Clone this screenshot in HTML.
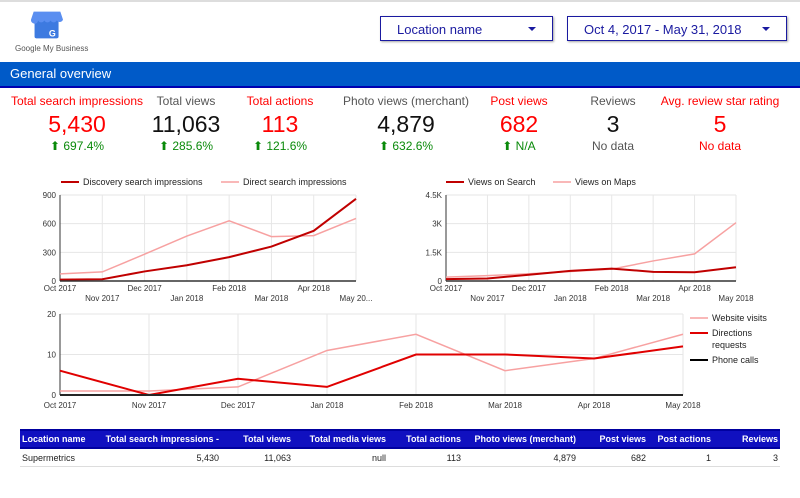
<!DOCTYPE html>
<html><head><meta charset="utf-8">
<style>
body{margin:0;width:800px;height:498px;background:#fff;font-family:"Liberation Sans",Arial,sans-serif;position:relative;overflow:hidden}
.abs{position:absolute}
.dd{position:absolute;top:16px;height:25px;border:1px solid #1a1aa0;box-shadow:1px 1px 2px rgba(0,0,0,.35);color:#1a1aa0;font-size:13px;line-height:25px;box-sizing:border-box}
.dd span.t{position:absolute;left:16px}
.dd span.a{position:absolute;right:16px;top:10px;width:0;height:0;border-left:4px solid transparent;border-right:4px solid transparent;border-top:4px solid #1a1aa0}
.kpi{position:absolute;top:94px;width:150px;margin-left:-75px;text-align:center}
.kpi .l{font-size:12px;color:#555;white-space:nowrap}
.kpi .v{font-size:23px;color:#111;line-height:28px;margin-top:2px}
.kpi .c{font-size:12px;color:#0a8a0a;margin-top:1px}
.red .l,.red .v{color:#f00}
.kpi .c.g{color:#555}.kpi .c.r{color:#f00}
svg text{font-family:"Liberation Sans",Arial,sans-serif}
table{position:absolute;left:20px;top:429px;width:760px;border-collapse:collapse;font-size:9px;table-layout:fixed}
th{background:#1010c0;color:#fff;font-weight:bold;height:16px;padding:0 2px;text-align:right;border-top:2px solid #0000a0;border-bottom:2px solid #0000a0;white-space:nowrap;overflow:hidden}
td{height:17px;padding:0 2px;text-align:right;border-bottom:1px solid #ddd;color:#222}
</style></head><body>
<div class="abs" style="left:0;top:0;width:800px;height:2px;background:#ddd"></div>
<svg class="abs" style="left:31px;top:9px" width="32" height="32" viewBox="0 0 36 34">
<rect x="4" y="10" width="27" height="22" rx="2" fill="#3d7ae0"/>
<path d="M3 2h30l3 9a4 4 0 0 1-7 1 4 4 0 0 1-7 0 4 4 0 0 1-7 0 4 4 0 0 1-7 0 4 4 0 0 1-8-1z" fill="#5a8ef0"/>
<text x="24" y="30" font-size="10" fill="#fff" font-weight="bold" text-anchor="middle">G</text>
</svg>
<div class="abs" style="left:15px;top:44px;font-size:8px;color:#555">Google My Business</div>
<div class="dd" style="left:380px;width:173px"><span class="t">Location name</span><span class="a"></span></div>
<div class="dd" style="left:567px;width:220px"><span class="t">Oct 4, 2017 - May 31, 2018</span><span class="a"></span></div>
<div class="abs" style="left:0;top:62px;width:800px;height:24px;background:#005ac8;border-bottom:2px solid #0000b0;color:#fff;font-size:13px;line-height:24px;padding-left:10px;box-sizing:content-box">General overview</div>

<div class="kpi red" style="left:77px"><div class="l">Total search impressions</div><div class="v">5,430</div><div class="c">⬆ 697.4%</div></div>
<div class="kpi" style="left:186px"><div class="l">Total views</div><div class="v">11,063</div><div class="c">⬆ 285.6%</div></div>
<div class="kpi red" style="left:280px"><div class="l">Total actions</div><div class="v">113</div><div class="c">⬆ 121.6%</div></div>
<div class="kpi" style="left:406px"><div class="l">Photo views (merchant)</div><div class="v">4,879</div><div class="c">⬆ 632.6%</div></div>
<div class="kpi red" style="left:519px"><div class="l">Post views</div><div class="v">682</div><div class="c">⬆ N/A</div></div>
<div class="kpi" style="left:613px"><div class="l">Reviews</div><div class="v">3</div><div class="c g">No data</div></div>
<div class="kpi red" style="left:720px"><div class="l">Avg. review star rating</div><div class="v">5</div><div class="c r">No data</div></div>

<svg class="abs" id="charts" style="left:0;top:0" width="800" height="498"></svg>

<table>
<colgroup><col style="width:83px"><col style="width:118px"><col style="width:72px"><col style="width:95px"><col style="width:75px"><col style="width:115px"><col style="width:70px"><col style="width:65px"><col style="width:67px"></colgroup>
<tr><th style="text-align:left">Location name</th><th>Total search impressions -</th><th>Total views</th><th>Total media views</th><th>Total actions</th><th>Photo views (merchant)</th><th>Post views</th><th>Post actions</th><th>Reviews</th></tr>
<tr><td style="text-align:left">Supermetrics</td><td>5,430</td><td>11,063</td><td>null</td><td>113</td><td>4,879</td><td>682</td><td>1</td><td>3</td></tr>
</table>

<script>
const months=["Oct 2017","Nov 2017","Dec 2017","Jan 2018","Feb 2018","Mar 2018","Apr 2018","May 2018"];
const discovery=[15,18,100,165,250,360,525,860];
const direct=[75,95,280,470,630,465,475,655];
const ticks1=[0,300,600,900];
const viewsSearch=[100,130,330,530,650,480,460,720];
const viewsMaps=[200,280,380,500,620,1050,1420,3050];
const ticks2=[0,1500,3000,4500];
const tickLabels2=["0","1.5K","3K","4.5K"];
const website=[1,1,2,11,15,6,9,15];
const directions=[6,0,4,2,10,10,9,12];
const phone=[0,0,0,0,0,0,0,0];
const ticks3=[0,10,20];

const svg=document.getElementById('charts');
const NS='http://www.w3.org/2000/svg';
function mk(tag,attrs,parent){const e=document.createElementNS(NS,tag);for(const k in attrs)e.setAttribute(k,attrs[k]);(parent||svg).appendChild(e);return e;}
function txt(x,y,s,size,anchor,fill,parent){const t=mk('text',{x:x,y:y,'font-size':size,'text-anchor':anchor,fill:fill||'#333'},parent);t.textContent=s;return t;}

function chart(name,x0,x1,y0,y1,max,ticks,tlabels,series,alt,lastLabel){
  const g=mk('g',{});
  
  
  const xs=i=>x0+i*(x1-x0)/(months.length-1);
  const ys=v=>y1-v/max*(y1-y0);
  ticks.forEach((t,i)=>{
    const gl=mk('line',{x1:x0,x2:x1,y1:ys(t),y2:ys(t),stroke:'#e6e6e6'},g);
    
    
    const tl=txt(x0-4,ys(t)+3,tlabels[i],8,'end','#333',g);
    
    
  });
  months.forEach((m,i)=>{
    if(i>0){const vl=mk('line',{x1:xs(i),x2:xs(i),y1:y0,y2:y1,stroke:'#e6e6e6'},g);
      
      }
    const yy=alt?(i%2?y1+20:y1+10):y1+13;
    const lab=(lastLabel&&i===months.length-1)?lastLabel:m;
    const xl=txt(xs(i),yy,lab,8,'middle','#333',g);
    
    
  });
  mk('line',{x1:x0,x2:x0,y1:y0,y2:y1,stroke:'#333'},g);
  series.forEach(s=>{
    const p=mk('polyline',{points:s.data.map((v,i)=>xs(i)+','+ys(v)).join(' '),fill:'none',stroke:s.color,'stroke-width':s.w},g);
    
    
  });
  mk('line',{x1:x0,x2:x1,y1:y1,y2:y1,stroke:'#333','stroke-width':1.5},g);
}
chart('search-impressions-chart',60,356,195,281,900,ticks1,ticks1.map(String),
 [{name:'direct-search-line',data:direct,color:'#f7a1a1',w:1.5},{name:'discovery-search-line',data:discovery,color:'#c00000',w:2}],true,'May 20...');
chart('views-chart',446,736,195,281,4500,ticks2,tickLabels2,
 [{name:'views-maps-line',data:viewsMaps,color:'#f7a1a1',w:1.5},{name:'views-search-line',data:viewsSearch,color:'#c00000',w:2}],true);
chart('actions-chart',60,683,314,395,20,ticks3,ticks3.map(String),
 [{name:'website-visits-line',data:website,color:'#f7a1a1',w:1.5},{name:'directions-line',data:directions,color:'#e00000',w:2},{name:'phone-calls-line',data:phone,color:'#000',w:2}],false);

function legend(x,y,color,label,w){
  const g=mk('g',{});
  
  
  mk('line',{x1:x,x2:x+18,y1:y,y2:y,stroke:color,'stroke-width':w},g);
  txt(x+22,y+3,label,9,'start','#222',g);
}
legend(61,182,'#c00000','Discovery search impressions',2);
legend(221,182,'#f7a1a1','Direct search impressions',1.5);
legend(446,182,'#c00000','Views on Search',2);
legend(553,182,'#f7a1a1','Views on Maps',1.5);
legend(690,318,'#f7a1a1','Website visits',1.5);
legend(690,333,'#e00000','Directions',2);
txt(712,348,'requests',9,'start','#222');
legend(690,360,'#000','Phone calls',2);
</script>
</body></html>
